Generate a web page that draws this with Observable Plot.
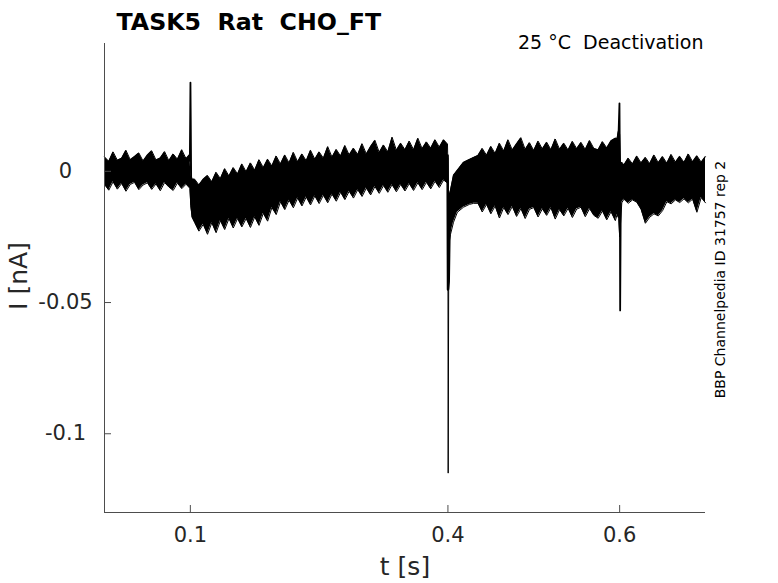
<!DOCTYPE html>
<html>
<head>
<meta charset="utf-8">
<script src="https://cdn.jsdelivr.net/npm/d3@7"></script>
<script src="https://cdn.jsdelivr.net/npm/@observablehq/plot@0.6"></script>
<style>
  body { margin: 0; background: #fff; }
  #chart svg { display: block; }
</style>
</head>
<body>
<div id="chart"></div>
<script>
// ---- data (time in ms, current in pA) ----
const bandTimeMs = [
  0,5,10,15,20,25,30,35,40,45,50,55,60,65,70,75,80,85,90,95,99.5,100.5,102,
  105,110,115,120,125,130,135,140,145,150,155,160,165,170,175,180,185,190,195,200,
  205,210,215,220,225,230,235,240,245,250,255,260,265,270,275,280,285,290,295,300,
  305,310,315,320,325,330,335,340,345,350,355,360,365,370,375,380,385,390,395,399.5,
  400.5,402,403,406.5,411,418,425,430,
  435,440,445,450,455,460,465,470,475,480,485,490,495,500,505,510,515,520,525,530,
  535,540,545,550,555,560,565,570,575,580,585,590,595,
  597,599,600,601,602.5,
  605,610,615,620,625,630,635,640,645,650,655,660,665,670,675,680,685,690,695,700
];
const bandUpperPA = [
  5.5,3.8,7.4,4.2,5.0,8.0,4.4,5.6,7.0,3.9,6.2,7.8,4.3,5.1,7.5,4.0,6.6,4.6,8.2,4.8,6.5,-1.0,-3.0,
  -3.0,-5.2,-3.0,-1.6,-4.0,-0.4,-2.8,1.0,-1.8,1.4,-1.0,2.8,-0.2,3.2,0.4,4.4,1.4,4.6,2.0,5.8,
  2.8,6.2,3.2,7.2,3.6,6.6,4.0,8.0,4.6,7.4,5.0,9.4,5.4,8.3,5.8,9.8,6.2,8.8,6.4,10.5,
  6.6,9.5,11.8,7.2,10.0,7.4,13.0,8.0,10.7,8.2,11.5,8.2,12.6,8.6,11.2,8.8,12.0,9.2,12.0,10.4,
  -8.0,-8.5,-7.2,-1.5,0.4,3.4,4.5,5.3,
  6.0,8.7,6.1,9.5,6.8,10.7,7.7,12.0,8.1,10.5,12.8,8.3,10.9,7.9,11.5,8.5,11.1,8.2,12.3,8.4,
  10.7,8.1,11.4,8.6,11.0,8.3,11.7,8.7,8.2,11.3,8.9,11.6,12.6,
  12.5,16.0,14.0,3.0,3.5,
  2.4,5.0,2.8,5.8,3.2,5.3,2.9,6.2,3.3,5.6,3.1,6.4,3.5,5.7,3.4,6.6,3.6,5.9,3.5,5.6
];
const bandLowerPA = [
  -5.0,-7.2,-4.0,-6.8,-4.6,-7.6,-5.0,-4.2,-7.0,-5.2,-4.4,-6.9,-4.8,-7.4,-4.3,-6.0,-7.3,-4.5,-6.6,-4.9,-6.5,-13.0,-17.5,
  -19.5,-22.8,-20.2,-24.0,-19.6,-23.4,-18.8,-22.2,-18.0,-21.6,-18.0,-21.2,-18.0,-21.4,-17.4,-20.6,-16.0,-19.0,-13.8,-16.5,
  -11.6,-14.6,-11.0,-13.9,-10.2,-13.2,-9.8,-12.8,-9.4,-12.3,-9.1,-12.0,-8.7,-11.4,-8.0,-10.8,-7.6,-10.2,-7.0,-9.6,
  -6.4,-9.0,-5.8,-8.4,-5.4,-8.0,-5.1,-7.8,-5.0,-7.5,-4.7,-7.3,-4.4,-7.0,-4.2,-6.7,-3.8,-6.2,-3.3,-4.5,
  -30.0,-26.0,-24.0,-19.4,-15.6,-13.7,-12.6,-12.2,
  -12.2,-15.5,-12.6,-16.2,-13.2,-17.8,-13.8,-16.5,-13.4,-17.2,-14.2,-18.0,-14.5,-13.8,-17.4,-14.3,-16.8,-13.9,-18.2,-14.6,
  -17.0,-14.1,-17.6,-14.4,-13.7,-17.3,-14.2,-16.8,-17.9,-15.1,-18.5,-15.4,-18.8,
  -16.5,-18.0,-25.0,-20.0,-12.0,
  -10.6,-12.2,-10.9,-11.8,-14.5,-19.8,-17.5,-16.2,-17.0,-15.0,-11.6,-12.4,-10.9,-11.9,-10.5,-12.0,-10.6,-15.6,-10.0,-12.0
];

// transient spikes (capacitive artefacts)
const spike1TimeMs = [99.4, 100.1, 100.5, 101.0, 101.8];
const spike1PA     = [4, 33.8, 18, -6, -15];
const spike2TimeMs = [399.6, 400.1, 400.9, 401.8];
const spike2PA     = [6, -45, -42, -22];
const spike3TimeMs = [399.9, 400.3, 401.0];
const spike3PA     = [5, -115, -28];
const spike4TimeMs = [598.5, 599.8, 600.2, 600.6, 601.3];
const spike4PA     = [12, 25.9, 5, -53, -12];

const xTicks = [0.1, 0.4, 0.6];
const yTicks = [0, -0.05, -0.1];
const xDomain = [0, 0.7];
const yDomain = [-0.13, 0.0487];

const titleText = "TASK5\u00A0\u00A0Rat\u00A0\u00A0CHO_FT";
const subtitleText = "25 °C\u00A0\u00A0Deactivation";
const sideText = "BBP Channelpedia ID 31757 rep 2";
const xLabel = "t [s]";
const yLabel = "I [nA]";

// ---- build tables ----
const band = bandTimeMs.map((t, i) => ({t: t / 1000, hi: bandUpperPA[i] / 1000, lo: bandLowerPA[i] / 1000}));
const mkSpike = (ts, vs) => ts.map((t, i) => ({t: t / 1000, v: vs[i] / 1000}));
const spikeThin = [mkSpike(spike3TimeMs, spike3PA)];
const spikeMed = [mkSpike(spike1TimeMs, spike1PA), mkSpike(spike4TimeMs, spike4PA)];
const spikeThick = [mkSpike(spike2TimeMs, spike2PA)];

const axisGray = "#4d4d4d";
const textGray = "#262626";

const chart = Plot.plot({
  width: 778,
  height: 583,
  marginLeft: 104,
  marginRight: 73,
  marginTop: 43,
  marginBottom: 71,
  style: {fontFamily: "DejaVu Sans", background: "#fff", overflow: "visible"},
  x: {domain: xDomain},
  y: {domain: yDomain},
  marks: [
    Plot.areaY(band, {x: "t", y1: "lo", y2: "hi", fill: "black"}),
    Plot.line(band, {x: "t", y: "hi", stroke: "black", strokeWidth: 1}),
    Plot.line(band, {x: "t", y: "lo", stroke: "black", strokeWidth: 1}),
    ...spikeMed.map(s => Plot.line(s, {x: "t", y: "v", stroke: "black", strokeWidth: 1.8})),
    ...spikeThick.map(s => Plot.line(s, {x: "t", y: "v", stroke: "black", strokeWidth: 2.5})),
    ...spikeThin.map(s => Plot.line(s, {x: "t", y: "v", stroke: "black", strokeWidth: 1})),
    Plot.ruleX([xDomain[0]], {stroke: axisGray}),
    Plot.ruleY([yDomain[0]], {stroke: axisGray}),
    Plot.axisX(xTicks, {
      tickSize: -7, tickPadding: 22, fontSize: 21, fill: textGray, stroke: axisGray,
      tickFormat: d => String(d), label: null
    }),
    Plot.axisY(yTicks, {
      tickSize: -7, tickPadding: 46, fontSize: 21, fill: textGray, stroke: axisGray,
      textAnchor: "middle", tickFormat: d => String(d), label: null
    }),
    Plot.text([xLabel], {frameAnchor: "bottom", textAnchor: "middle", lineAnchor: "middle", dy: 54, fontSize: 25, fill: textGray}),
    Plot.text([yLabel], {frameAnchor: "left", textAnchor: "middle", lineAnchor: "middle", rotate: -90, dx: -86, dy: -2, fontSize: 25, fill: textGray}),
    Plot.text([titleText], {frameAnchor: "top-left", textAnchor: "start", lineAnchor: "top", dx: 12, dy: -30, fontSize: 23.7, fontWeight: "bold", fill: "#000"}),
    Plot.text([subtitleText], {frameAnchor: "top-right", textAnchor: "end", lineAnchor: "top", dx: -2, dy: -8.5, fontSize: 19, fill: "#000"}),
    Plot.text([sideText], {frameAnchor: "right", textAnchor: "middle", lineAnchor: "middle", rotate: -90, dx: 15, dy: 1.5, fontSize: 14, fill: "#000"})
  ]
});
document.getElementById("chart").appendChild(chart);
</script>
</body>
</html>
